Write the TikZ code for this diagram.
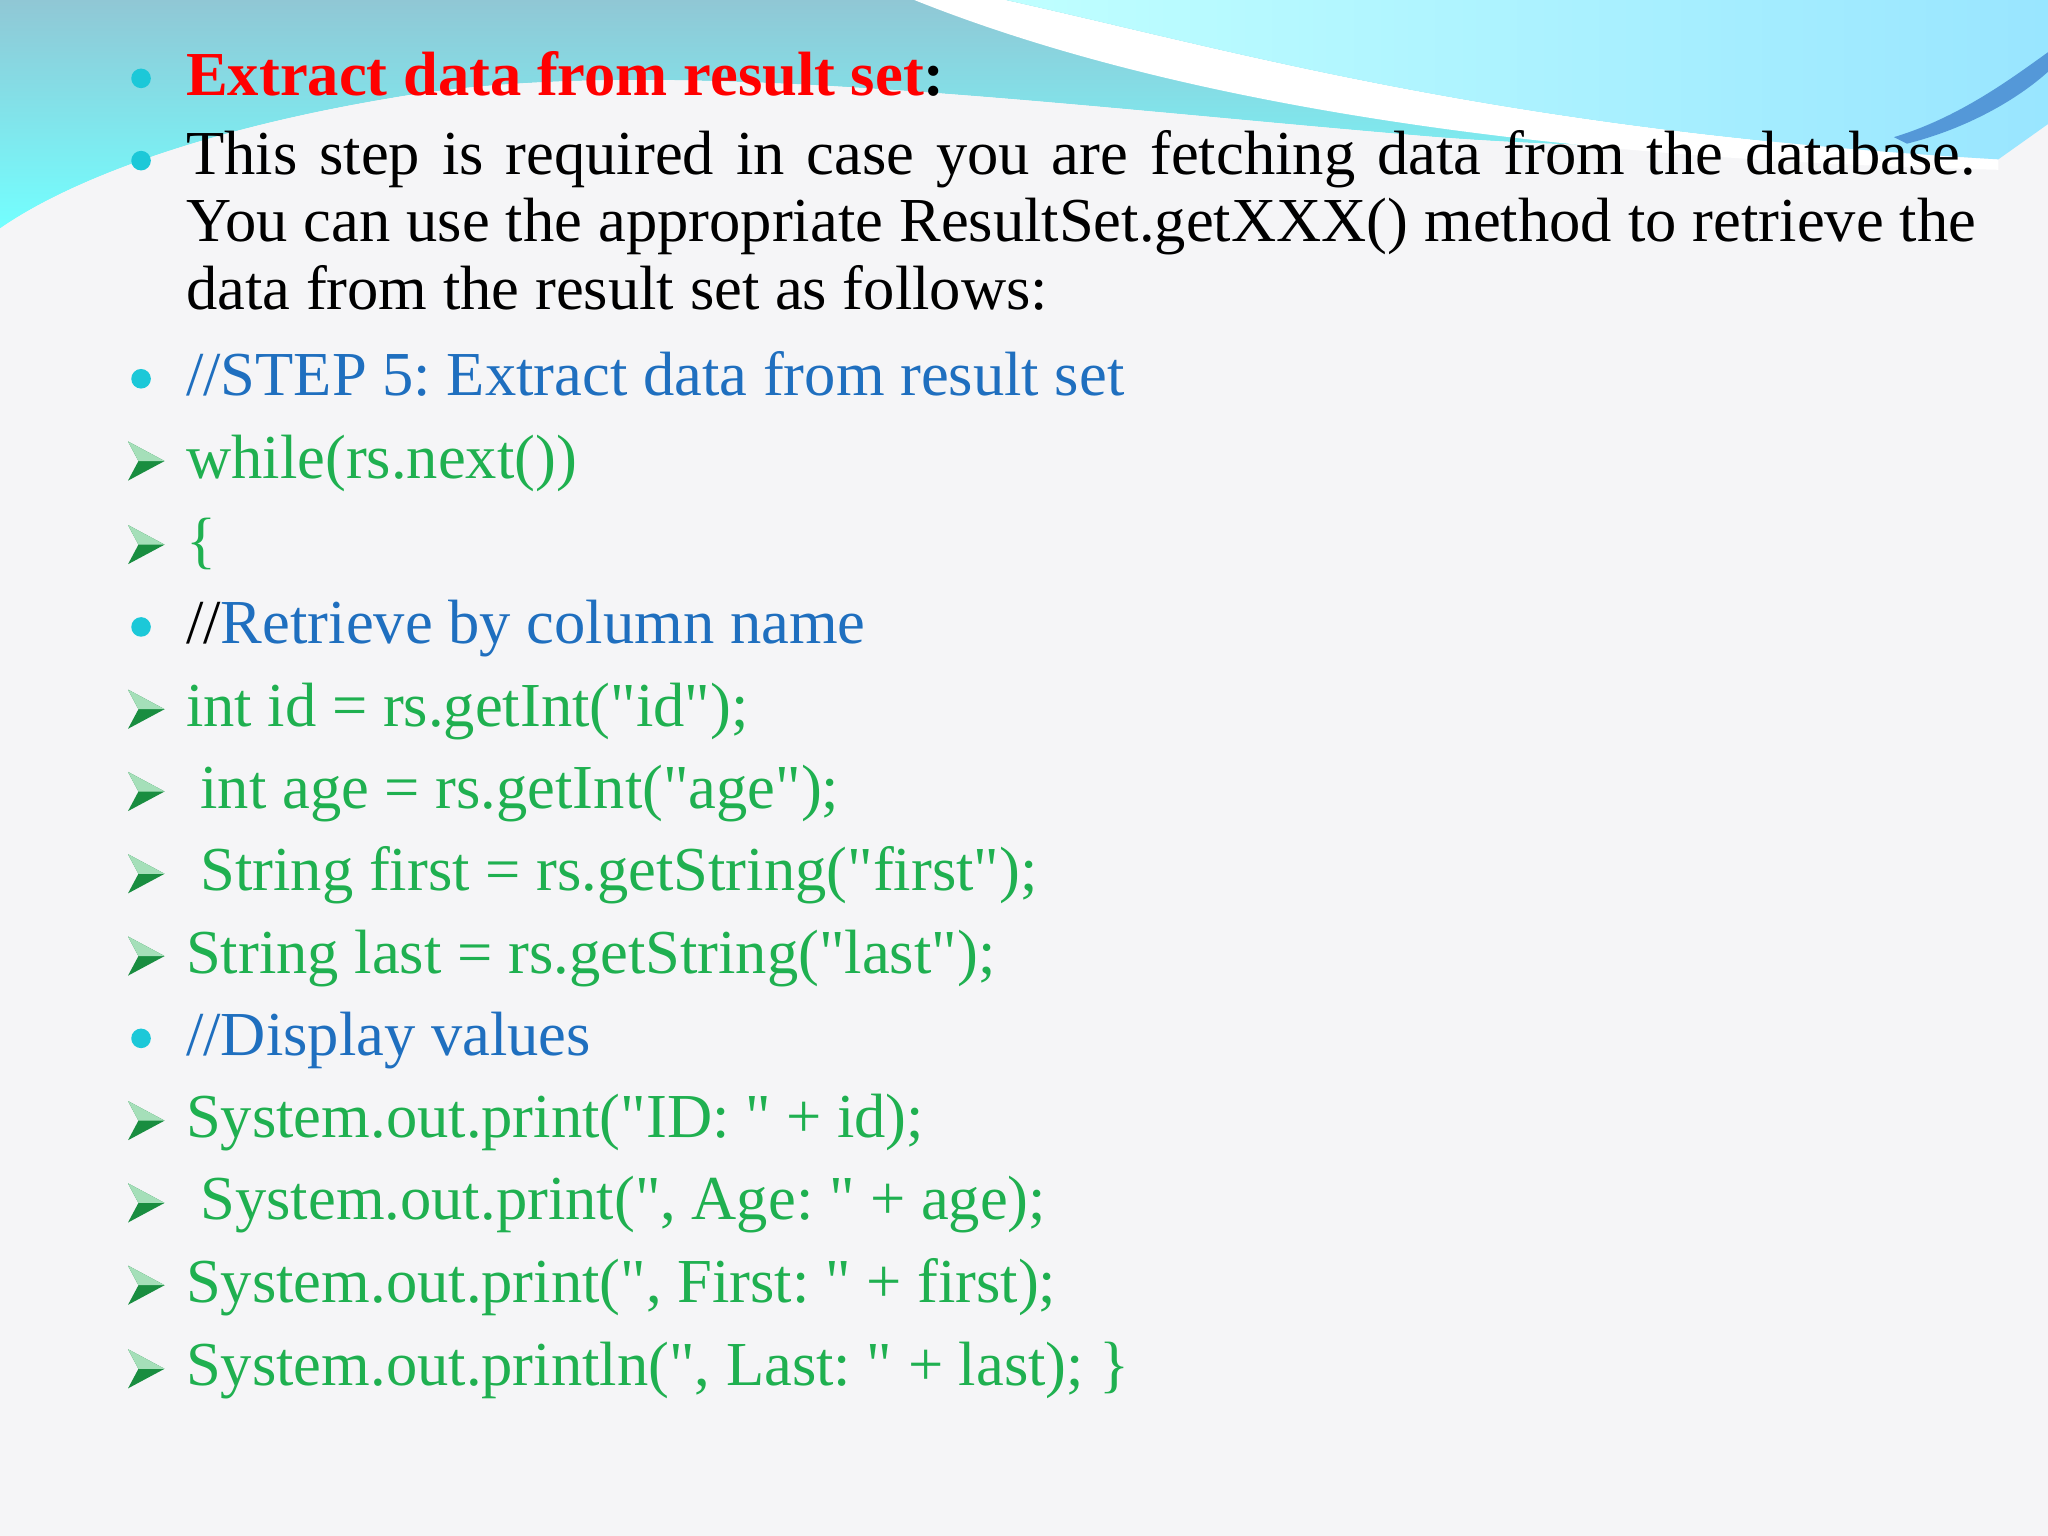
\documentclass[tikz,border=0pt]{standalone}
\usepackage{fontspec}
\setmainfont{Liberation Serif}[Ligatures=TeXOff]
\frenchspacing
\begin{document}
\begin{tikzpicture}[x=0.013061cm,y=-0.013061cm,
  txt/.style={anchor=base west,inner sep=0pt,font=\fontsize{17.8}{19.3}\selectfont},
  cmt/.style={txt,text=cmtblue},
  code/.style={txt,text=codegreen}]
\definecolor{cmtblue}{HTML}{1F6FBF}
\definecolor{codegreen}{HTML}{1FB050}
\definecolor{dotcyan}{HTML}{1CC8D8}
\definecolor{bg}{HTML}{F5F5F7}
\useasboundingbox (0,0) rectangle (1568,1176);
\fill[bg] (0,0) rectangle (1568,1176);
% top waves
\shade[top color=blue!20!cyan!45!gray!60, bottom color=cyan!55] (0,0) -- (1568,0) -- (1568,60)
  .. controls (1450,110) and (1300,120) .. (1100,105)
  .. controls (800,80) and (500,40) .. (300,75)
  .. controls (150,100) and (50,140) .. (0,175) -- cycle;
\fill[bg] (1568,60) .. controls (1450,110) and (1300,120) .. (1100,105)
  .. controls (800,80) and (500,40) .. (300,75)
  .. controls (150,100) and (50,140) .. (0,175) -- (0,200) -- (1568,200) -- cycle;
\fill[white] (700,0) .. controls (850,60) and (1100,120) .. (1530,130)
  -- (1530,122) .. controls (1150,100) and (950,40) .. (770,0) -- cycle;
\shade[left color=cyan!25!white, right color=blue!25!cyan!40] (770,0) .. controls (950,40) and (1150,100) .. (1530,122) -- (1568,95) -- (1568,0) -- cycle;
\fill[cyan!60!blue!70] (1450,105) .. controls (1500,90) and (1540,60) .. (1568,40) -- (1568,55) .. controls (1540,80) and (1500,100) .. (1460,110) -- cycle;
% bullets
\foreach \yy in {60,123,290,480,795}
  \fill[dotcyan] (108,\yy) circle (7.5);
\foreach \yy in {353,417,543,606,669,732,858,921,984,1048}{
  \fill[codegreen!80!black] (98,\yy-15) -- (126,\yy) -- (98,\yy+15) -- (106,\yy) -- cycle;
  \fill[codegreen!40!white] (98,\yy-15) -- (126,\yy) -- (106,\yy) -- cycle;
}
% text
\node[txt] (t1) at (142,73) {\textcolor{red}{\textbf{Extract data from result set}}\textbf{:}};
\node[txt,anchor=north west,text width=17.9cm,align=justify] (t2) at (142,99)
  {This step is required in case you are fetching data from the database.\linebreak You can use the appropriate ResultSet.getXXX() method to retrieve the\linebreak data from the result set as follows:};
\node[cmt] (l3) at (142,303) {//STEP 5: Extract data from result set};
\node[code] (l4) at (142,366) {while(rs.next())};
\node[code] (l5) at (142,430) {\{};
\node[cmt] (l6) at (142,493) {\textcolor{black}{//}Retrieve by column name};
\node[code] (l7) at (142,556) {int id = rs.getInt("id");};
\node[code] (l8) at (153,619) {int age = rs.getInt("age");};
\node[code] (l9) at (153,682) {String first = rs.getString("first");};
\node[code] (l10) at (142,745) {String last = rs.getString("last");};
\node[cmt] (l11) at (142,808) {//Display values};
\node[code] (l12) at (142,871) {System.out.print("ID: " + id);};
\node[code] (l13) at (153,934) {System.out.print(", Age: " + age);};
\node[code] (l14) at (142,997) {System.out.print(", First: " + first);};
\node[code] (l15) at (142,1061) {System.out.println(", Last: " + last); \}};
\end{tikzpicture}
\end{document}
